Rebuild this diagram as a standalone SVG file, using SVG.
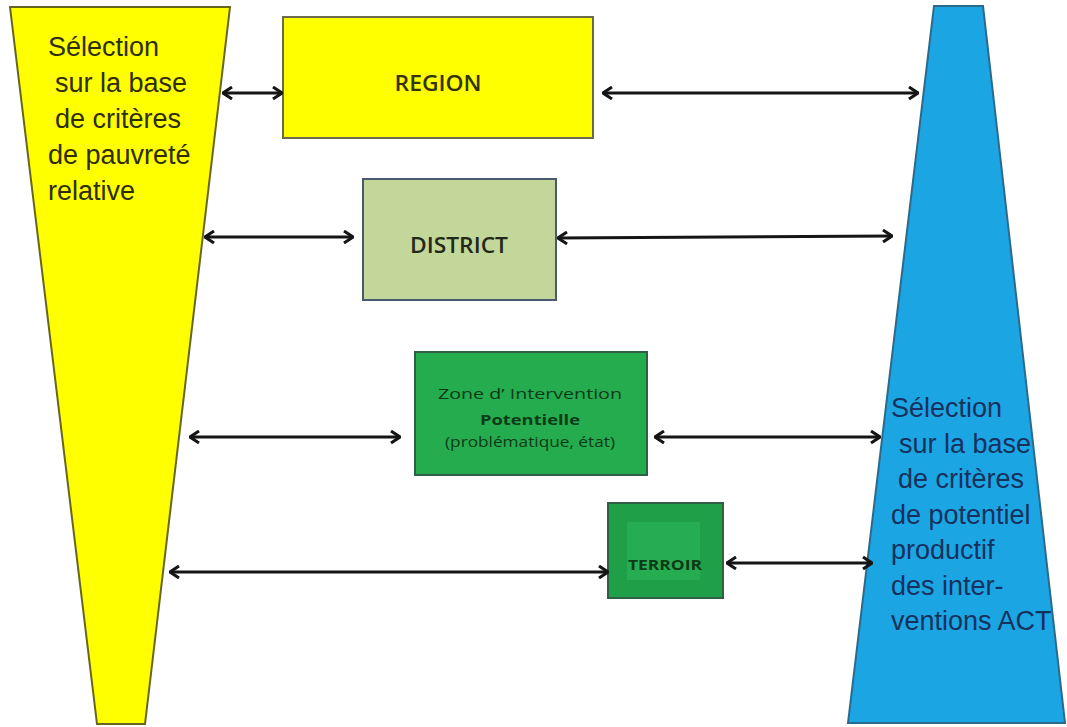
<svg xmlns="http://www.w3.org/2000/svg" width="1067" height="727" viewBox="0 0 1067 727">
<style>
.big{font-family:"Liberation Sans",Arial,sans-serif;font-size:27px}
.lt{fill:#2e2e0c}
.rt{fill:#17315e}
.box{font-family:"Open Sans","Liberation Sans",sans-serif;font-weight:600;text-anchor:middle}
.reg{font-weight:400}
.bld{font-weight:700}
.conn{stroke:#151515;stroke-width:3;fill:none;marker-start:url(#ah);marker-end:url(#ah)}
</style>
<defs>
<marker id="ah" viewBox="0 0 12 14" refX="11" refY="7" markerWidth="12" markerHeight="14" markerUnits="userSpaceOnUse" orient="auto-start-reverse">
<path d="M2,1 L11,7 L2,13" fill="none" stroke="#151515" stroke-width="3" stroke-linejoin="miter"/>
</marker>
</defs>
<rect width="1067" height="727" fill="#ffffff"/>
<g id="left-funnel">
<polygon points="10,7 230,7 145,724 97,724" fill="#ffff00" stroke="#66661f" stroke-width="2"/>
<text class="big lt" x="48" y="56">Sélection</text>
<text class="big lt" x="55" y="92">sur la base</text>
<text class="big lt" x="55" y="128">de critères</text>
<text class="big lt" x="48" y="164">de pauvreté</text>
<text class="big lt" x="48" y="200">relative</text>
</g>
<g id="right-funnel">
<polygon points="934,6 983,6 1065,723 848,723" fill="#1ba6e3" stroke="#2c6a8c" stroke-width="2"/>
<text class="big rt" x="891" y="417">Sélection</text>
<text class="big rt" x="899" y="453">sur la base</text>
<text class="big rt" x="898" y="488">de critères</text>
<text class="big rt" x="891" y="524">de potentiel</text>
<text class="big rt" x="891" y="559">productif</text>
<text class="big rt" x="891" y="595">des inter-</text>
<text class="big rt" x="891" y="630">ventions ACT</text>
</g>
<g id="region">
<rect x="283" y="17" width="310" height="121" fill="#ffff00" stroke="#6b6b4a" stroke-width="2"/>
<text class="box" x="438" y="91" font-size="21" fill="#33330f" textLength="87" lengthAdjust="spacingAndGlyphs">REGION</text>
</g>
<g id="district">
<rect x="363" y="179" width="193" height="121" fill="#c4d79b" stroke="#4a5a6a" stroke-width="2"/>
<text class="box" x="459" y="253" font-size="21" fill="#22281a" textLength="98" lengthAdjust="spacingAndGlyphs">DISTRICT</text>
</g>
<g id="zone">
<rect x="415" y="352" width="232" height="123" fill="#25ac4f" stroke="#2f5f45" stroke-width="2"/>
<text class="box reg" x="530" y="399" font-size="15" fill="#0c3a16" textLength="184" lengthAdjust="spacingAndGlyphs">Zone d’  Intervention</text>
<text class="box bld" x="530" y="425" font-size="15" fill="#0c3a16" textLength="100" lengthAdjust="spacingAndGlyphs">Potentielle</text>
<text class="box reg" x="530" y="447" font-size="14" fill="#0c3a16" textLength="170" lengthAdjust="spacingAndGlyphs">(problématique, état)</text>
</g>
<g id="terroir">
<rect x="608" y="503" width="115" height="95" fill="#1f9f48" stroke="#2f5f45" stroke-width="2"/>
<rect x="627" y="522" width="73" height="58" fill="#27ad51"/>
<text class="box bld" x="665" y="570" font-size="15" fill="#0c3a16" textLength="74" lengthAdjust="spacingAndGlyphs">TERROIR</text>
</g>
<g id="connectors">
<line class="conn" x1="223" y1="93" x2="282" y2="93"/>
<line class="conn" x1="603" y1="93" x2="918" y2="93"/>
<line class="conn" x1="205" y1="237" x2="353" y2="237"/>
<line class="conn" x1="558" y1="238" x2="892" y2="236"/>
<line class="conn" x1="190" y1="437" x2="400" y2="437"/>
<line class="conn" x1="655" y1="437" x2="880" y2="437"/>
<line class="conn" x1="170" y1="572" x2="608" y2="572"/>
<line class="conn" x1="727" y1="563" x2="872" y2="563"/>
</g>
</svg>
